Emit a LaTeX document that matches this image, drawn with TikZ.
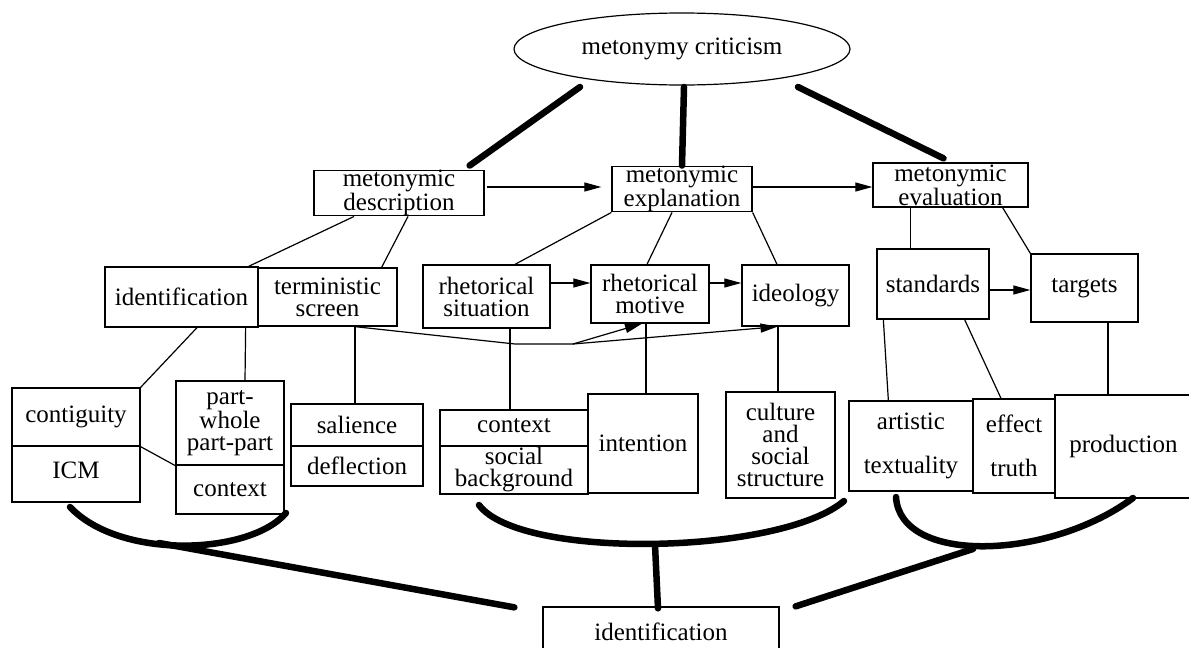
\documentclass[tikz,border=0pt]{standalone}
\usepackage{fontspec}
\setmainfont{Liberation Serif}
\usetikzlibrary{calc,shapes.geometric,arrows.meta}

\begin{document}
\begin{tikzpicture}[x=1pt,y=-1pt,
  font=\fontsize{25}{22}\selectfont,
  cell/.style={draw,line width=1.3pt,inner sep=0pt,align=center},
  link/.style={line width=1.2pt},
  arr/.style={line width=1.2pt,-{Triangle[length=17pt,width=9pt]}},
  heavy/.style={line width=6.5pt,line cap=round}]
\useasboundingbox (0,0) rectangle (1189,648);

% top
\node[draw,ellipse,line width=1.2pt,inner sep=0pt,minimum width=336pt,minimum height=72pt] (crit) at (682,49) {metonymy criticism};

\node[cell,minimum width=170pt,minimum height=42pt] (desc) at (399,193) {metonymic\\description};
\node[cell,minimum width=140pt,minimum height=42pt] (expl) at (682,189) {metonymic\\explanation};
\node[cell,minimum width=155pt,minimum height=44pt] (eval) at (950.5,185) {metonymic\\evaluation};

% second row
\node[cell,minimum width=153pt,minimum height=60pt] (ident) at (181.5,297) {identification};
\node[cell,minimum width=139pt,minimum height=58pt] (term) at (327.5,297) {terministic\\screen};
\node[cell,minimum width=127pt,minimum height=63pt] (sit) at (486.5,296.5) {rhetorical\\situation};
\node[cell,minimum width=118pt,minimum height=58pt] (motive) at (650,294) {rhetorical\\motive};
\node[cell,minimum width=107pt,minimum height=61pt] (ideo) at (795.5,295.5) {ideology};
\node[cell,minimum width=112pt,minimum height=70pt] (stand) at (933,284) {standards};
\node[cell,minimum width=107pt,minimum height=68pt] (targ) at (1084.5,288) {targets};

% third row
\node[cell,minimum width=128pt,minimum height=58pt] (contig) at (76,417) {contiguity};
\node[cell,minimum width=128pt,minimum height=56pt] (icm) at (76,474) {\raisebox{7pt}{ICM}};
\node[cell,minimum width=108pt,minimum height=84pt] (partw) at (230,423) {part-\\whole\\part-part};
\node[cell,minimum width=108pt,minimum height=49pt] (pctx) at (230,489.5) {context};
\node[cell,minimum width=132pt,minimum height=42pt] (sal) at (357,425) {salience};
\node[cell,minimum width=132pt,minimum height=40pt] (defl) at (357,466) {deflection};
\node[cell,minimum width=148pt,minimum height=36pt] (ctx) at (514,428) {\raisebox{6pt}{context}};
\node[cell,minimum width=148pt,minimum height=48pt] (socbg) at (514,470) {social\\background};
\node[cell,minimum width=110pt,minimum height=99pt] (inten) at (643,443.5) {intention};
\node[cell,minimum width=109pt,minimum height=106pt] (cult) at (780.5,445) {culture\\and\\social\\structure};
\node[cell,minimum width=124pt,minimum height=90pt] (art) at (911,446) {artistic\\[22pt]textuality};
\node[cell,minimum width=82pt,minimum height=94pt] (eff) at (1014,446) {effect\\[22pt]truth};
\node[cell,minimum width=137pt,minimum height=103pt] (prod) at (1123.5,446.5) {production};

% bottom
\node[cell,minimum width=236pt,minimum height=50pt] (bot) at (661,632) {identification};

% heavy links from the ellipse
\draw[heavy] ($(crit)+(-102,38)$) -- ($(desc.north east)+(-15,-4)$);
\draw[heavy] ($(crit)+(2,38)$) -- (expl.north);
\draw[heavy] ($(crit)+(116,38)$) -- ($(eval.north)+(-7,-4)$);

% arrows along the top row
\draw[arr] ($(desc.east)+(2,-6)$) -- ($(expl.west)+(-10,-2)$);
\draw[arr] ($(expl.east)+(0,-2)$) -- ($(eval.west)+(0,2)$);

% tree lines
\draw[link] ($(desc.south)+(-45,0)$) -- ($(ident.north east)+(-10,0)$);
\draw[link] ($(desc.south)+(9,0)$) -- ($(term.north east)+(-16,0)$);
\draw[link] (expl.south west) -- ($(sit.north)+(28.5,0)$);
\draw[link] ($(expl.south)+(-10,0)$) -- ($(motive.north)+(-3,0)$);
\draw[link] (expl.south east) -- ($(ideo.north)+(-18.5,0)$);
\draw[link] ($(eval.south west)+(38,0)$) -- ($(stand.north west)+(34,0)$);
\draw[link] ($(eval.south east)+(-26,0)$) -- (targ.north west);

\draw[arr] ($(sit.east)+(0,-13.5)$) -- ($(motive.west)+(0,-11)$);
\draw[arr] ($(motive.east)+(-2,-11)$) -- ($(ideo.west)+(0,-12.5)$);
\draw[arr] ($(stand.east)+(0,6)$) -- ($(targ.west)+(0,2)$);

\draw[link] ($(ident.south)+(15.5,0)$) -- (contig.north east);
\draw[link] ($(ident.south east)+(-13,0)$) -- ($(partw.north)+(15,0)$);
\draw[link] (contig.south east) -- (partw.south west);
\draw[link] ($(term.south)+(27.5,0)$) -- ($(sal.north)+(-2,0)$);

\coordinate (kink) at (573,344);
\draw[link] ($(term.south)+(27.5,0)$) -- (515,344) -- (kink);
\draw[arr] (kink) -- ($(motive.south)+(-8,0)$);
\draw[arr] (kink) -- ($(ideo.south)+(-18,0)$);

\draw[link] ($(sit.south)+(23.5,0)$) -- ($(ctx.north)+(-4,0)$);
\draw[link] ($(motive.south)+(-4,0)$) -- ($(inten.north)+(3,0)$);
\draw[link] ($(ideo.south)+(-17.5,0)$) -- ($(cult.north)+(-2.5,0)$);
\draw[link] ($(stand.south west)+(7,0)$) -- ($(art.north west)+(40,0)$);
\draw[link] ($(stand.south east)+(-25,0)$) -- ($(eff.north)+(-13,0)$);
\draw[link] ($(targ.south)+(23.5,0)$) -- ($(prod.north)+(-15.5,0)$);

% brackets
\draw[heavy] (70,507) .. controls (120,560) and (250,555) .. (286,513);
\draw[heavy] (479,505) .. controls (520,560) and (780,555) .. (844,501);
\draw[heavy] (896,497) .. controls (900,565) and (1050,560) .. (1133,498);

\coordinate (lbend) at (159,543);
\coordinate (mbend) at (655,545);
\coordinate (rbend) at (973,549);
\draw[heavy] (lbend) -- ($(bot.north west)+(-28,1)$);
\draw[heavy] (mbend) -- ($(bot.north)+(-3,2)$);
\draw[heavy] (rbend) -- ($(bot.north east)+(16,0)$);
\end{tikzpicture}
\end{document}
